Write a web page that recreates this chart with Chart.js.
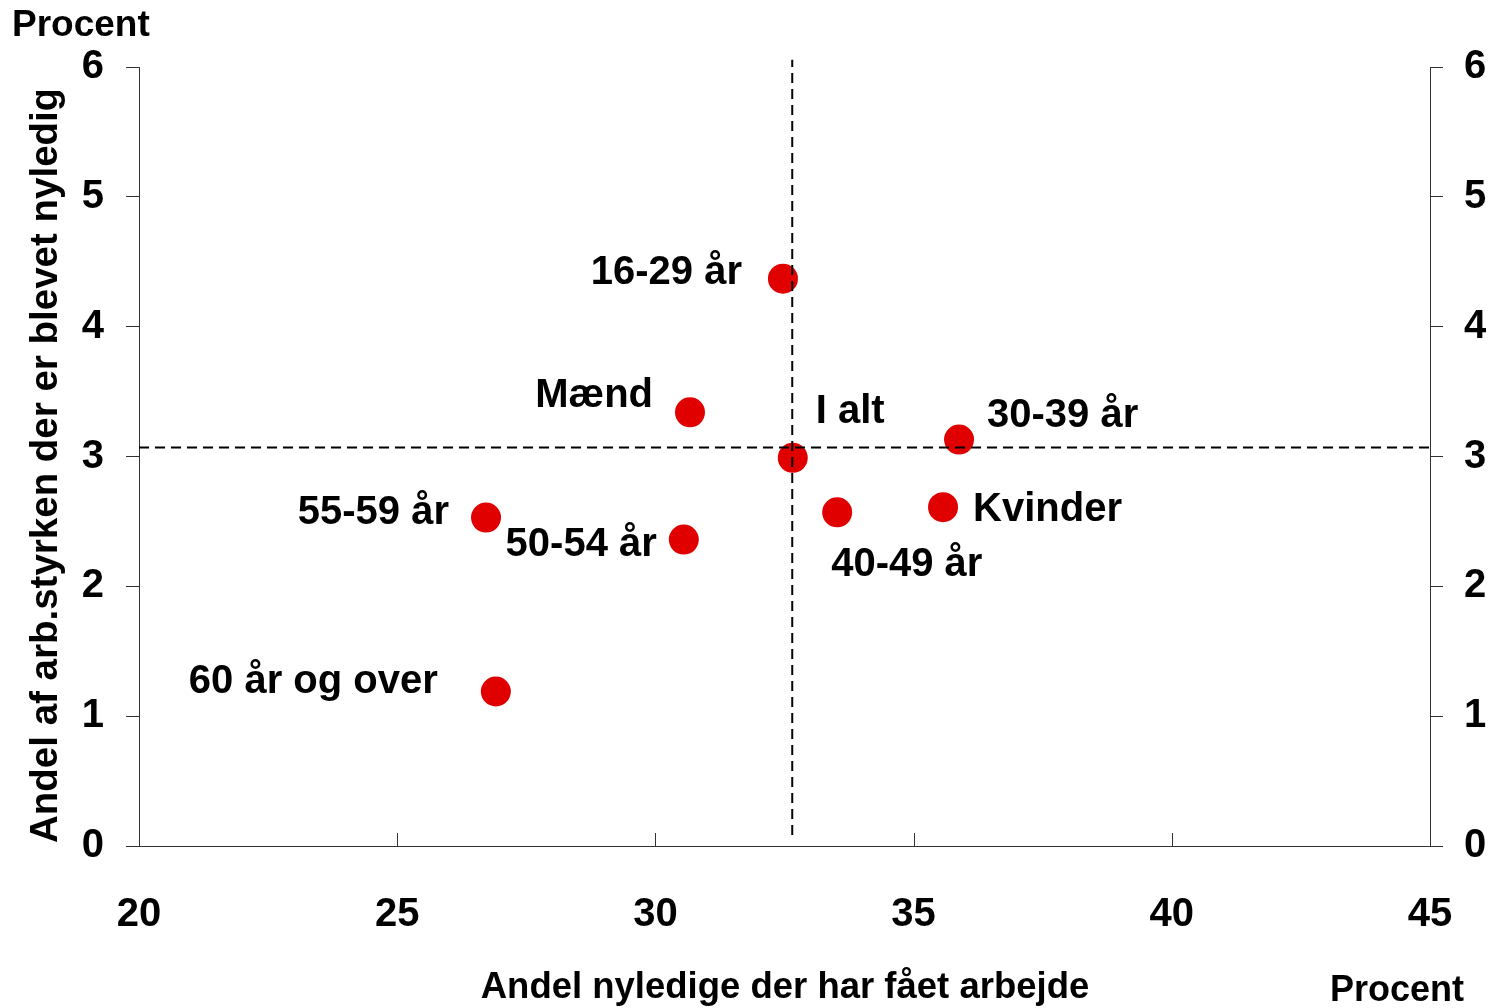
<!DOCTYPE html>
<html>
<head>
<meta charset="utf-8">
<script src="https://cdn.jsdelivr.net/npm/chart.js@4.4.1/dist/chart.umd.min.js"></script>
<style>
  html, body { margin: 0; padding: 0; background: #fff; }
  #wrap { width: 1499px; height: 1008px; position: relative; }
</style>
</head>
<body>
<div id="wrap"><canvas id="scatter"></canvas></div>
<script>
// data
const groups = ["16-29 år", "Mænd", "I alt", "30-39 år", "Kvinder", "40-49 år", "55-59 år", "50-54 år", "60 år og over"];
const gotJob = [32.47, 30.67, 32.66, 35.88, 35.57, 33.52, 26.72, 30.55, 26.91];
const becameUnemployed = [4.37, 3.34, 2.99, 3.13, 2.61, 2.57, 2.53, 2.36, 1.19];
const xTicks = [20, 25, 30, 35, 40, 45];
const yTicks = [0, 1, 2, 3, 4, 5, 6];
// dashed reference lines (average values)
const avgGotJob = 32.65;
const avgUnemployed = 3.07;
const vLineSpan = [0.085, 6.055];
const hLineSpan = [20, 45];

// where each label sits relative to its dot
const labelPos = [
    { dx: -41, dy: -6, align: "right" },
    { dx: -37, dy: -16, align: "right" },
    { dx: 23, dy: -46, align: "left" },
    { dx: 28, dy: -24, align: "left" },
    { dx: 30, dy: 3, align: "left" },
    { dx: -6, dy: 53, align: "left" },
    { dx: -37, dy: -5, align: "right" },
    { dx: -27, dy: 5, align: "right" },
    { dx: -58, dy: -10, align: "right" }
];

const FONT = "'Liberation Sans', Arial, sans-serif";
const axisColor = "#333333";

const pointLabels = {
    id: "pointLabels",
    afterDatasetsDraw(chart) {
        const ctx = chart.ctx;
        const meta = chart.getDatasetMeta(0);
        ctx.save();
        ctx.font = "bold 40px " + FONT;
        ctx.fillStyle = "#000";
        ctx.textBaseline = "middle";
        meta.data.forEach((pt, i) => {
            const p = labelPos[i];
            ctx.textAlign = p.align;
            ctx.fillText(groups[i], pt.x + p.dx, pt.y + p.dy);
        });
        ctx.restore();
    }
};

const extras = {
    id: "extras",
    afterDraw(chart) {
        const ctx = chart.ctx;
        const xs = chart.scales.x;
        const area = chart.chartArea;
        ctx.save();
        // x ticks pointing inward
        ctx.strokeStyle = axisColor;
        ctx.lineWidth = 1;
        xTicks.forEach(v => {
            const px = Math.round(xs.getPixelForValue(v)) + 0.5;
            ctx.beginPath();
            ctx.moveTo(px, area.bottom);
            ctx.lineTo(px, area.bottom - 13);
            ctx.stroke();
        });
        ctx.fillStyle = "#000";
        ctx.textBaseline = "alphabetic";
        ctx.font = "bold 37px " + FONT;
        ctx.textAlign = "left";
        ctx.fillText("Procent", 12, 36);
        ctx.font = "bold 36px " + FONT;
        ctx.fillText("Procent", 1330, 1001);
        ctx.font = "bold 36.5px " + FONT;
        ctx.textAlign = "center";
        ctx.fillText("Andel nyledige der har fået arbejde", 785, 998);
        // rotated y title, cut off at the top like the original
        ctx.beginPath();
        ctx.rect(0, 91, 90, 900);
        ctx.clip();
        ctx.translate(57, 843);
        ctx.rotate(-Math.PI / 2);
        ctx.font = "bold 38.5px " + FONT;
        ctx.textAlign = "left";
        ctx.fillText("Andel af arb.styrken der er blevet nyledige", 0, 0);
        ctx.restore();
    }
};

const tickFont = { family: FONT, size: 40, weight: "bold" };

new Chart(document.getElementById("scatter"), {
    type: "scatter",
    plugins: [pointLabels, extras],
    data: {
        datasets: [{
            data: gotJob.map((x, i) => ({ x: x, y: becameUnemployed[i] })),
            backgroundColor: "#e00000",
            borderWidth: 0,
            pointRadius: 15,
            pointHoverRadius: 15,
            order: 2
        }, {
            data: [{ x: avgGotJob, y: vLineSpan[0] }, { x: avgGotJob, y: vLineSpan[1] }],
            showLine: true,
            borderColor: "#000",
            borderWidth: 2,
            borderDash: [10, 6],
            pointRadius: 0,
            clip: false,
            order: 1
        }, {
            data: [{ x: hLineSpan[0], y: avgUnemployed }, { x: hLineSpan[1], y: avgUnemployed }],
            showLine: true,
            borderColor: "#000",
            borderWidth: 2,
            borderDash: [10, 6],
            pointRadius: 0,
            clip: false,
            order: 1
        }]
    },
    options: {
        responsive: true,
        maintainAspectRatio: false,
        animation: false,
        layout: { padding: { top: 67, left: 0, right: 0, bottom: 0 } },
        plugins: {
            legend: { display: false },
            tooltip: { enabled: false }
        },
        scales: {
            x: {
                type: "linear",
                position: "bottom",
                min: 20,
                max: 45,
                afterBuildTicks: s => { s.ticks = xTicks.map(v => ({ value: v })); },
                afterFit: s => { s.height = 162; },
                grid: { display: true, drawOnChartArea: false, drawTicks: false, color: axisColor },
                border: { display: true, color: axisColor, width: 1 },
                ticks: { font: tickFont, color: "#000", padding: 45, maxRotation: 0 }
            },
            y: {
                type: "linear",
                position: "left",
                min: 0,
                max: 6,
                afterBuildTicks: s => { s.ticks = yTicks.map(v => ({ value: v })); },
                afterFit: s => { s.width = 139; },
                grid: { display: true, drawOnChartArea: false, drawTicks: true, tickLength: 13, color: axisColor },
                border: { display: true, color: axisColor, width: 1 },
                ticks: { font: tickFont, color: "#000", padding: 22 }
            },
            y2: {
                type: "linear",
                position: "right",
                min: 0,
                max: 6,
                afterBuildTicks: s => { s.ticks = yTicks.map(v => ({ value: v })); },
                afterFit: s => { s.width = 69; },
                grid: { display: true, drawOnChartArea: false, drawTicks: true, tickLength: 13, color: axisColor },
                border: { display: true, color: axisColor, width: 1 },
                ticks: { font: tickFont, color: "#000", padding: 21 }
            }
        }
    }
});
</script>
</body>
</html>
